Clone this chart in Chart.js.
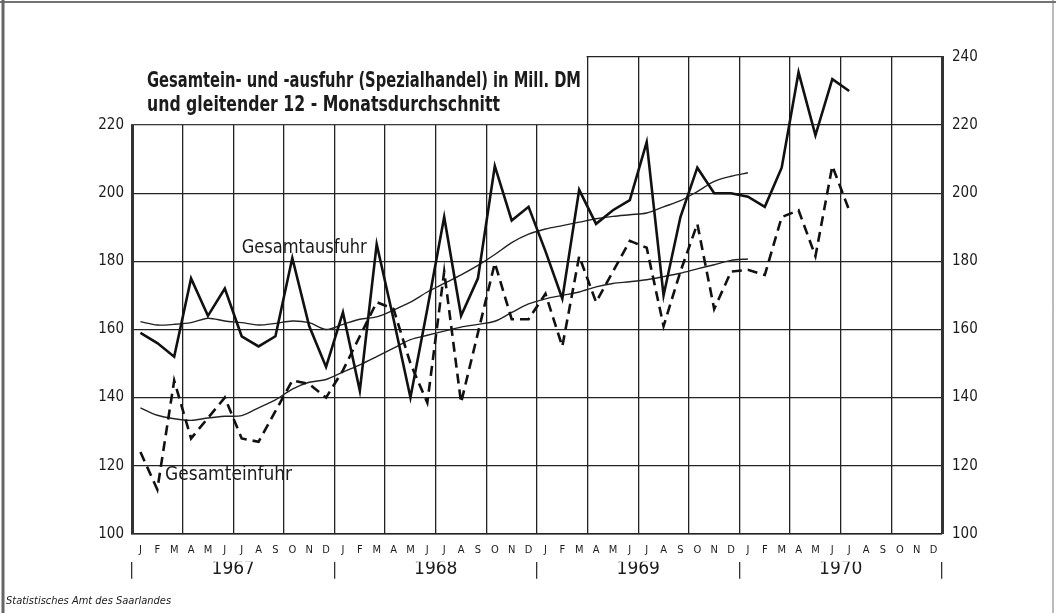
<!DOCTYPE html>
<html>
<head>
<meta charset="utf-8">
<script src="https://cdn.jsdelivr.net/npm/chart.js@4.4.1/dist/chart.umd.min.js"></script>
<style>
html,body{margin:0;padding:0;background:#fff}
#bloco{width:1056px;height:613px}
</style>
</head>
<body>
<div id="bloco"><canvas id="grafico" width="1056" height="613"></canvas></div>
<script>
// Monate und Jahre der x-Achse
var meses=['J','F','M','A','M','J','J','A','S','O','N','D'];
var anos=['1967','1968','1969','1970'];
var yTicks=[100,120,140,160,180,200,220,240];

// Gesamtausfuhr, Mill. DM (Jan 1967 - Jul 1970)
var ausfuhr=[159,156,152,175,164,172,158,155,158,181,161,149,
    165,142,185,163,140,166,193,164,175,208,192,196,
    183,169,201,191,195,198,215,170,193,207.5,200,200,
    199,196,207.5,235.5,217,233.5,230];
// Gesamteinfuhr, Mill. DM
var einfuhr=[124,113,145,128,134,140,128,127,136,145,144,140,
    148,158,168,166,150,138.5,177,138.5,159,179.5,163,163,
    170.5,155,181.5,168,177,186,184,161,177,191,166,177,
    177.5,176,193,195,181.5,208,195];
// gleitender 12-Monatsdurchschnitt (Jan 1967 - Jan 1970)
var ausfuhrMittel=[162.3,161.3,161.5,162,163.3,162.5,162,161.3,161.8,162.5,162,160,
    161.5,163,163.7,165.7,168,171,173.5,176,178.8,182,185.5,188,
    189.5,190.5,191.5,192.5,193.2,193.7,194.2,196,197.8,200.5,203.5,205,
    206];
var einfuhrMittel=[137,134.8,133.8,133.3,134,134.5,134.7,137,139.3,142.5,144.5,145.3,
    147.5,149.6,152,154.5,157,158.3,159.5,160.7,161.5,162.4,165,167.5,
    169,170,171,172.5,173.5,174,174.6,175.5,176.5,177.8,179,180.3,
    180.7];

var fonte="'DejaVu Sans Condensed','DejaVu Sans',sans-serif";
var tinta='#1b1b1b';

function pontos(lista){
    return lista.map(function(v,i){return {x:i+0.5,y:v};});
}

var rotulosMeses=[];
anos.forEach(function(){ rotulosMeses=rotulosMeses.concat(meses); });

function textoAjustado(ctx,texto,x,y,largura,fonteTxt){
    ctx.font=fonteTxt;
    var w=ctx.measureText(texto).width;
    var s=largura/w;
    ctx.save();
    ctx.translate(x,y);
    ctx.scale(s,1);
    ctx.fillText(texto,0,0);
    ctx.restore();
}

var beschriftung={
    id:'beschriftung',
    beforeDatasetsDraw:function(chart){
        var ctx=chart.ctx, a=chart.chartArea, x=chart.scales.x, y=chart.scales.y;
        // oberer linker Bereich ohne Raster (Platz fuer den Titel)
        var xr=x.getPixelForValue(27), yb=y.getPixelForValue(220);
        ctx.save();
        ctx.fillStyle='#fff';
        ctx.fillRect(a.left-8,a.top-4,xr-1-(a.left-8),yb-1-(a.top-4));
        ctx.restore();
    },
    afterDraw:function(chart){
        var ctx=chart.ctx, a=chart.chartArea, x=chart.scales.x, y=chart.scales.y;
        ctx.save();
        ctx.fillStyle=tinta;
        ctx.textBaseline='alphabetic';
        ctx.textAlign='left';
        textoAjustado(ctx,'Gesamtein- und -ausfuhr (Spezialhandel) in Mill. DM',a.left+15,87,434,'bold 22px '+fonte);
        textoAjustado(ctx,'und gleitender 12 - Monatsdurchschnitt',a.left+15,111,353,'bold 22px '+fonte);
        textoAjustado(ctx,'Gesamtausfuhr',x.getPixelForValue(6.5),y.getPixelForValue(182.4),125,'19px '+fonte);
        textoAjustado(ctx,'Gesamteinfuhr',x.getPixelForValue(1.96),y.getPixelForValue(115.8),127,'19px '+fonte);
        // Rahmen des Blattes
        ctx.strokeStyle='#444';
        ctx.lineWidth=1.5;
        ctx.beginPath();ctx.moveTo(0,2);ctx.lineTo(1056,2);ctx.stroke();
        ctx.lineWidth=3;ctx.strokeStyle='#666';
        ctx.beginPath();ctx.moveTo(3,0);ctx.lineTo(3,613);ctx.stroke();
        ctx.lineWidth=1;ctx.strokeStyle='#777';
        ctx.beginPath();ctx.moveTo(1053,0);ctx.lineTo(1053,613);ctx.stroke();
        ctx.restore();
    }
};

window.addEventListener("load",function(){
    var canvas=document.getElementById('grafico');
    Chart.defaults.color=tinta;
    Chart.defaults.font.family=fonte;
    new Chart(canvas,{
        type:'line',
        data:{
            datasets:[
                {label:'Gesamtausfuhr',data:pontos(ausfuhr),borderColor:'#111',borderWidth:2.6,pointRadius:0,tension:0,fill:false},
                {label:'Gesamteinfuhr',data:pontos(einfuhr),borderColor:'#111',borderWidth:2.6,borderDash:[10,6],pointRadius:0,tension:0,fill:false},
                {label:'Ausfuhr 12-Monatsdurchschnitt',data:pontos(ausfuhrMittel),borderColor:'#222',borderWidth:1.4,pointRadius:0,tension:0.3,fill:false},
                {label:'Einfuhr 12-Monatsdurchschnitt',data:pontos(einfuhrMittel),borderColor:'#222',borderWidth:1.4,pointRadius:0,tension:0.3,fill:false}
            ]
        },
        options:{
            responsive:false,
            devicePixelRatio:1,
            animation:false,
            layout:{padding:{top:57,left:6,right:0,bottom:0}},
            plugins:{
                legend:{display:false},
                tooltip:{enabled:false},
                title:{display:false},
                subtitle:{display:true,position:'bottom',align:'start',text:'Statistisches Amt des Saarlandes',
                    font:{family:fonte,size:11,style:'italic'},color:tinta,padding:{top:0,bottom:5}}
            },
            scales:{
                x:{type:'linear',min:0,max:48,position:'bottom',weight:0,
                    ticks:{stepSize:3,display:false},
                    grid:{color:'#222',lineWidth:1.3,drawTicks:false},
                    border:{color:'#222',width:1.5},
                    afterFit:function(s){s.height=0;}},
                xm:{type:'category',labels:rotulosMeses,offset:true,position:'bottom',weight:1,
                    grid:{display:false,drawTicks:false},border:{display:false},
                    ticks:{autoSkip:false,maxRotation:0,padding:10,font:{size:11}},
                    afterFit:function(s){s.height=28;}},
                xa:{type:'category',labels:anos,offset:true,position:'bottom',weight:2,
                    grid:{display:true,drawOnChartArea:false,offset:true,tickLength:17,color:'#333',lineWidth:1.3},
                    border:{display:false},
                    ticks:{padding:-21,font:{size:19}},
                    afterFit:function(s){s.height=33;}},
                y:{min:100,max:240,position:'left',
                    ticks:{stepSize:20,padding:8,font:{size:15},callback:function(v){return v===240?'':v;}},
                    grid:{color:'#222',lineWidth:1.3,drawTicks:false},
                    border:{color:'#333',width:3},
                    afterFit:function(s){s.width=126;}},
                y2:{min:100,max:240,position:'right',
                    ticks:{stepSize:20,padding:10,font:{size:15}},
                    grid:{display:false,drawTicks:false},
                    border:{color:'#333',width:3},
                    afterFit:function(s){s.width=114;}}
            }
        },
        plugins:[beschriftung]
    });
});
</script>
</body>
</html>
